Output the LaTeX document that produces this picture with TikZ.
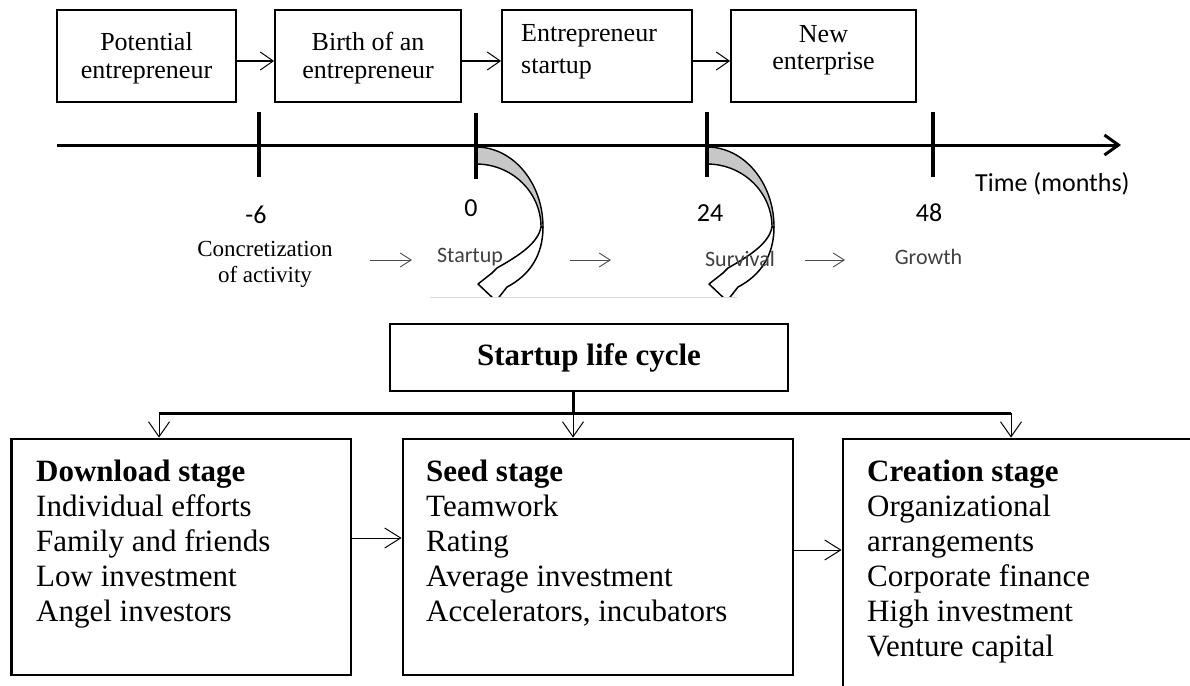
\documentclass[tikz,border=0pt]{standalone}
\usepackage{fontspec}
\setmainfont{Liberation Serif}
\newfontfamily\calib{Carlito}
\usetikzlibrary{arrows.meta}
\tikzset{
  curvarrow/.pic={
    \filldraw[fill=black!22, draw=black, line width=1.4pt, line join=round]
      (0,0) arc[start angle=90, end angle=0, x radius=67pt, y radius=80pt]
      -- (65,-80) arc[start angle=0, end angle=90, x radius=65pt, y radius=63pt] -- cycle;
    \filldraw[fill=white, draw=black, line width=1.5pt, line join=round]
      (67,-80) .. controls (67,-108) and (54,-128) .. (31,-140)
      -- (20,-154) -- (2,-137) -- (16,-126) -- (21,-121)
      .. controls (44,-108) and (62,-96) .. (65,-80) -- cycle;
  }
}
\begin{document}
\begin{tikzpicture}[x=1pt,y=1pt,
  topbox/.style={draw, line width=1.8pt, minimum height=92pt, inner sep=0pt},
  toptext/.style={font=\fontsize{26}{28}\selectfont, align=center, inner sep=0pt},
  toparrow/.style={line width=1pt, -{Straight Barb[length=13pt,width=18pt]}},
  axisline/.style={line width=3pt, -{Straight Barb[length=14pt,width=20pt]}},
  tickmark/.style={line width=4.5pt},
  numlab/.style={font=\calib\fontsize{26}{30}\selectfont, inner sep=0pt},
  phaselab/.style={font=\calib\fontsize{22}{26}\selectfont, text=black!75, inner sep=0pt},
  midarrow/.style={line width=0.9pt, black!70, -{Straight Barb[length=11pt,width=14pt]}},
  stagebox/.style={draw, line width=2.8pt, inner sep=0pt},
  stagetext/.style={font=\fontsize{31}{35}\selectfont, align=left, inner sep=0pt, anchor=north west},
  downarrow/.style={line width=1pt, -{Straight Barb[length=15pt,width=21pt]}},
  sidearrow/.style={line width=1pt, -{Straight Barb[length=16pt,width=20pt]}}
]
\useasboundingbox (0,0) rectangle (1190,-685);
\clip (0,0) rectangle (1190,-685);

% top boxes
\node[topbox, minimum width=179pt] (b1) at (146.5,-56) {};
\node[topbox, minimum width=186pt] (b2) at (368,-56) {};
\node[topbox, minimum width=190pt] (b3) at (597,-56) {};
\node[topbox, minimum width=185pt] (b4) at (823.5,-56) {};
\node[toptext] (t1) at (146.5,-58) {Potential\\entrepreneur};
\node[toptext] (t2) at (368,-58) {Birth of an\\entrepreneur};
\node[toptext, font=\fontsize{26}{32}\selectfont, align=left, anchor=west] (t3) at (521,-52) {Entrepreneur\\startup};
\node[toptext, font=\fontsize{26}{27}\selectfont] (t4) at (823.5,-50) {New\\enterprise};
\draw[toparrow] ([yshift=-5pt]b1.east) -- ([yshift=-5pt]b2.west);
\draw[toparrow] ([yshift=-5pt]b2.east) -- ([yshift=-5pt]b3.west);
\draw[toparrow] ([yshift=-5pt]b3.east) -- ([yshift=-5pt]b4.west);

% curved arrows
\begin{scope}
  \clip (0,0) rectangle (1190,-297);
  \begin{scope}[shift={(476,-147)}]
    \pic at (0,0) {curvarrow};
  \end{scope}
  \begin{scope}[shift={(707,-147)}, xscale=-1]
    \pic at (0,0) {curvarrow};
  \end{scope}
\end{scope}
\draw[black!15, line width=0.8pt] (430,-297) -- (737,-297);

% time axis
\coordinate (ax0) at (57,-145);
\coordinate (ax1) at (1121,-145);
\draw[axisline] (ax0) -- (ax1);
\draw[tickmark] (259,-112) -- (259,-177);
\draw[tickmark] (476,-113) -- (476,-179);
\draw[tickmark] (707,-112) -- (707,-177);
\draw[tickmark] (933,-112) -- (933,-177);

\node[numlab] (n6) at (256,-215) {-6};
\node[numlab] (n0) at (471,-208) {0};
\node[numlab] (n24) at (710,-213) {24};
\node[numlab] (n48) at (929,-213) {48};
\node[numlab, anchor=west] (time) at (975,-184) {Time (months)};

\node[font=\fontsize{23}{26}\selectfont, align=center, inner sep=0pt] (conc) at (265,-264) {Concretization\\of activity};
\node[phaselab] (st) at (470,-257) {Startup};
\node[phaselab] (sv) at (740,-259) {Survival};
\node[phaselab] (gr) at (928.5,-257) {Growth};
\coordinate (a1s) at (370,-260); \coordinate (a1e) at (412,-260);
\coordinate (a2s) at (570,-260); \coordinate (a2e) at (611,-260);
\coordinate (a3s) at (805,-260); \coordinate (a3e) at (845,-260);
\draw[midarrow] (a1s) -- (a1e);
\draw[midarrow] (a2s) -- (a2e);
\draw[midarrow] (a3s) -- (a3e);

% startup life cycle
\node[stagebox, minimum width=398pt, minimum height=67pt, font=\bfseries\fontsize{31}{35}\selectfont] (slc) at (589,-357.5) {Startup life cycle};
\coordinate (stem) at (573,-413);
\coordinate (barL) at (159,-413);
\coordinate (barR) at (1011,-413);
\draw[line width=3pt] (slc.south -| stem) -- (stem);
\draw[line width=3pt] (barL) -- (barR);

% stage boxes
\node[stagebox, minimum width=339.5pt, minimum height=236pt] (A) at (181.25,-557) {};
\node[stagebox, minimum width=390pt, minimum height=236pt] (B) at (598,-557) {};
\node[stagebox, minimum width=400pt, minimum height=300pt] (C) at (1043,-589) {};

\draw[downarrow] (barL) -- (barL |- A.north);
\draw[downarrow] (stem) -- (stem |- B.north);
\draw[downarrow] (barR) -- (barR |- C.north);
\draw[sidearrow] ([yshift=19pt]A.east) -- ([yshift=19pt]B.west);
\draw[sidearrow] ([yshift=7pt]B.east) -- ([yshift=7pt]B.east -| C.west);

\node[stagetext] (ta) at (36,-460) {\textbf{Download stage}\\Individual efforts\\Family and friends\\Low investment\\Angel investors};
\node[stagetext] (tb) at (426,-460) {\textbf{Seed stage}\\Teamwork\\Rating\\Average investment\\Accelerators, incubators};
\node[stagetext] (tc) at (867,-460) {\textbf{Creation stage}\\Organizational\\arrangements\\Corporate finance\\High investment\\Venture capital};
\end{tikzpicture}
\end{document}
